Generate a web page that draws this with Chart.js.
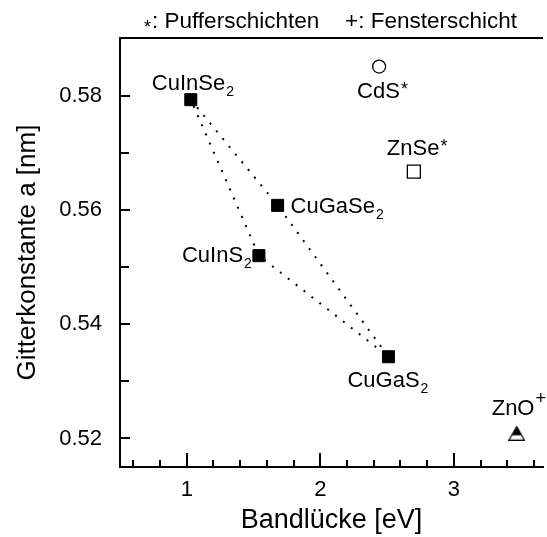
<!DOCTYPE html>
<html>
<head>
<meta charset="utf-8">
<script src="https://cdn.jsdelivr.net/npm/chart.js@4.4.0/dist/chart.umd.min.js"></script>
<style>
  html, body { margin: 0; padding: 0; background: #fff; }
  #chart { display: block; }
</style>
</head>
<body>
<canvas id="chart" width="547" height="537" style="width:547px;height:537px"></canvas>
<script>
// Chalkopyrit-Absorber (Eckpunkte des Vierecks, in Umlaufreihenfolge)
const chalcoNames = ['CuInSe2', 'CuGaSe2', 'CuGaS2', 'CuInS2'];
const chalcoGap = [1.03, 1.68, 2.51, 1.54];          // eV
const chalcoLattice = [0.5793, 0.5608, 0.5343, 0.5520]; // nm

// Puffer- und Fensterschichten
const cdsGap = [2.44];
const cdsLattice = [0.5851];
const znseGap = [2.70];
const znseLattice = [0.5667];
const znoGap = [3.47];
const znoLattice = [0.5209];

// Achsen
const xTickValues = [1, 2, 3];
const xTickLabels = ['1', '2', '3'];
const yTickValues = [0.52, 0.54, 0.56, 0.58];
const yTickLabels = ['0.52', '0.54', '0.56', '0.58'];
const X_MIN = 0.5, X_MAX = 3.667;
const Y_MIN = 0.515, Y_MAX = 0.5901;

// Beschriftungen: [Text, Index/Exponent, Art]
const pointLabels = {
  CuInSe2: ['CuInSe', '2', 'sub'],
  CuGaSe2: ['CuGaSe', '2', 'sub'],
  CuGaS2: ['CuGaS', '2', 'sub'],
  CuInS2: ['CuInS', '2', 'sub'],
  CdS: ['CdS', '*', 'sup'],
  ZnSe: ['ZnSe', '*', 'sup'],
  ZnO: ['ZnO', '+', 'sup']
};

const FONT = '"Liberation Sans", Arial, Helvetica, sans-serif';

// Lage der Beschriftung relativ zum Punkt (Pixel: linker Rand, Grundlinie)
const labelOffset = {
  CuInSe2: [-39, -10],
  CuGaSe2: [13, 8],
  CuGaS2: [-41, 30],
  CuInS2: [-77, 6],
  CdS: [-22, 31],
  ZnSe: [-27, -17],
  ZnO: [-25, -18]
};

const pts = (gx, gy) => gx.map((g, i) => ({ x: g, y: gy[i] }));

// halb gefuelltes Dreieck fuer ZnO
function halfTriangle() {
  const c = document.createElement('canvas');
  c.width = 17; c.height = 15;
  const g = c.getContext('2d');
  const path = () => {
    g.beginPath();
    g.moveTo(8.5, 0.8);
    g.lineTo(16.2, 14.3);
    g.lineTo(0.8, 14.3);
    g.closePath();
  };
  path();
  g.fillStyle = '#fff';
  g.fill();
  g.save();
  path();
  g.clip();
  g.fillStyle = '#000';
  g.fillRect(0, 0, 17, 9.5);
  g.restore();
  path();
  g.lineWidth = 1.2;
  g.strokeStyle = '#000';
  g.stroke();
  return c;
}

// Rahmen oben und nach innen zeigende Striche
const axisDecor = {
  id: 'axisDecor',
  afterDraw(chart) {
    const { ctx, chartArea: a, scales: { x, y } } = chart;
    ctx.save();
    ctx.strokeStyle = '#000';
    ctx.lineWidth = 2;
    ctx.beginPath();
    ctx.moveTo(a.left - 1, a.top);
    ctx.lineTo(a.right, a.top);
    ctx.stroke();

    ctx.beginPath();
    for (let i = 3; i * 0.2 < X_MAX; i++) {
      const px = Math.round(x.getPixelForValue(i * 0.2));
      const len = i % 5 === 0 ? 14 : 7;
      ctx.moveTo(px, a.bottom);
      ctx.lineTo(px, a.bottom - len);
    }
    for (let i = 52; i <= 58; i++) {
      const py = Math.round(y.getPixelForValue(i / 100));
      const len = i % 2 === 0 ? 10 : 9;
      ctx.moveTo(a.left, py);
      ctx.lineTo(a.left + len, py);
    }
    ctx.stroke();
    ctx.restore();
  }
};

// Namen an den Punkten und Legendenzeile oben
const labelsPlugin = {
  id: 'labels',
  afterDatasetsDraw(chart) {
    const { ctx, scales: { x, y } } = chart;
    const all = [];
    chalcoNames.forEach((n, i) => all.push([n, chalcoGap[i], chalcoLattice[i]]));
    all.push(['CdS', cdsGap[0], cdsLattice[0]]);
    all.push(['ZnSe', znseGap[0], znseLattice[0]]);
    all.push(['ZnO', znoGap[0], znoLattice[0]]);

    ctx.save();
    ctx.fillStyle = '#000';
    ctx.textAlign = 'left';
    ctx.textBaseline = 'alphabetic';
    all.forEach(([name, gx, gy]) => {
      const [main, extra, kind] = pointLabels[name];
      const [dx, dy] = labelOffset[name];
      const bx = x.getPixelForValue(gx) + dx;
      const by = y.getPixelForValue(gy) + dy;
      ctx.font = '22px ' + FONT;
      ctx.fillText(main, bx, by);
      const w = ctx.measureText(main).width;
      if (kind === 'sub') {
        ctx.font = '14px ' + FONT;
        ctx.fillText(extra, bx + w + 1, by + 6);
      } else {
        ctx.font = '18px ' + FONT;
        ctx.fillText(extra, bx + w + 1, by - (extra === '+' ? 11 : 3));
      }
    });

    // Legendenzeile
    ctx.font = '18px ' + FONT;
    ctx.fillText('*', 144, 33);
    ctx.font = '22.5px ' + FONT;
    ctx.fillText(': Pufferschichten', 152, 28);
    ctx.fillText('+: Fensterschicht', 345, 28);
    ctx.restore();
  }
};

new Chart(document.getElementById('chart'), {
  type: 'scatter',
  data: {
    datasets: [
      {
        data: pts(chalcoGap, chalcoLattice),
        pointStyle: 'rect',
        pointRadius: 8.5,
        backgroundColor: '#000',
        borderColor: '#000',
        borderWidth: 1
      },
      {
        data: pts(cdsGap, cdsLattice),
        pointStyle: 'circle',
        pointRadius: 6.5,
        backgroundColor: '#fff',
        borderColor: '#000',
        borderWidth: 1.3
      },
      {
        data: pts(znseGap, znseLattice),
        pointStyle: 'rect',
        pointRadius: 9.2,
        backgroundColor: '#fff',
        borderColor: '#000',
        borderWidth: 1.3
      },
      {
        data: pts(znoGap, znoLattice),
        pointStyle: halfTriangle(),
        pointRadius: 8
      },
      {
        // gepunktetes Viereck zwischen den Chalkopyriten
        data: [0, 1, 2, 3, 0].map(i => ({ x: chalcoGap[i], y: chalcoLattice[i] })),
        showLine: true,
        pointRadius: 0,
        borderColor: '#000',
        borderWidth: 2,
        borderDash: [2, 8],
        fill: false
      }
    ]
  },
  options: {
    responsive: false,
    animation: false,
    events: [],
    layout: { autoPadding: false, padding: { top: 38, right: 4, left: 0, bottom: 0 } },
    plugins: {
      legend: { display: false },
      tooltip: { enabled: false }
    },
    scales: {
      x: {
        type: 'linear',
        min: X_MIN,
        max: X_MAX,
        afterBuildTicks: s => { s.ticks = xTickValues.map(v => ({ value: v })); },
        afterFit: s => { s.height = 70; },
        ticks: {
          callback: (v, i) => xTickLabels[i],
          font: { family: FONT, size: 22 },
          color: '#000',
          padding: 10,
          maxRotation: 0,
          autoSkip: false
        },
        grid: { drawOnChartArea: false, drawTicks: false },
        border: { display: true, width: 2, color: '#000' },
        title: {
          display: true,
          text: 'Bandlücke [eV]',
          font: { family: FONT, size: 27 },
          color: '#000',
          padding: { top: 0, bottom: 0 }
        }
      },
      y: {
        type: 'linear',
        min: Y_MIN,
        max: Y_MAX,
        afterBuildTicks: s => { s.ticks = yTickValues.map(v => ({ value: v })); },
        afterFit: s => { s.width = 120; },
        ticks: {
          callback: (v, i) => yTickLabels[i],
          font: { family: FONT, size: 22 },
          color: '#000',
          padding: 18,
          autoSkip: false
        },
        grid: { drawOnChartArea: false, drawTicks: false },
        border: { display: true, width: 2, color: '#000' },
        title: {
          display: true,
          text: 'Gitterkonstante a [nm]',
          font: { family: FONT, size: 26 },
          color: '#000',
          padding: { top: 12, bottom: 0 }
        }
      }
    }
  },
  plugins: [axisDecor, labelsPlugin]
});
</script>
</body>
</html>
